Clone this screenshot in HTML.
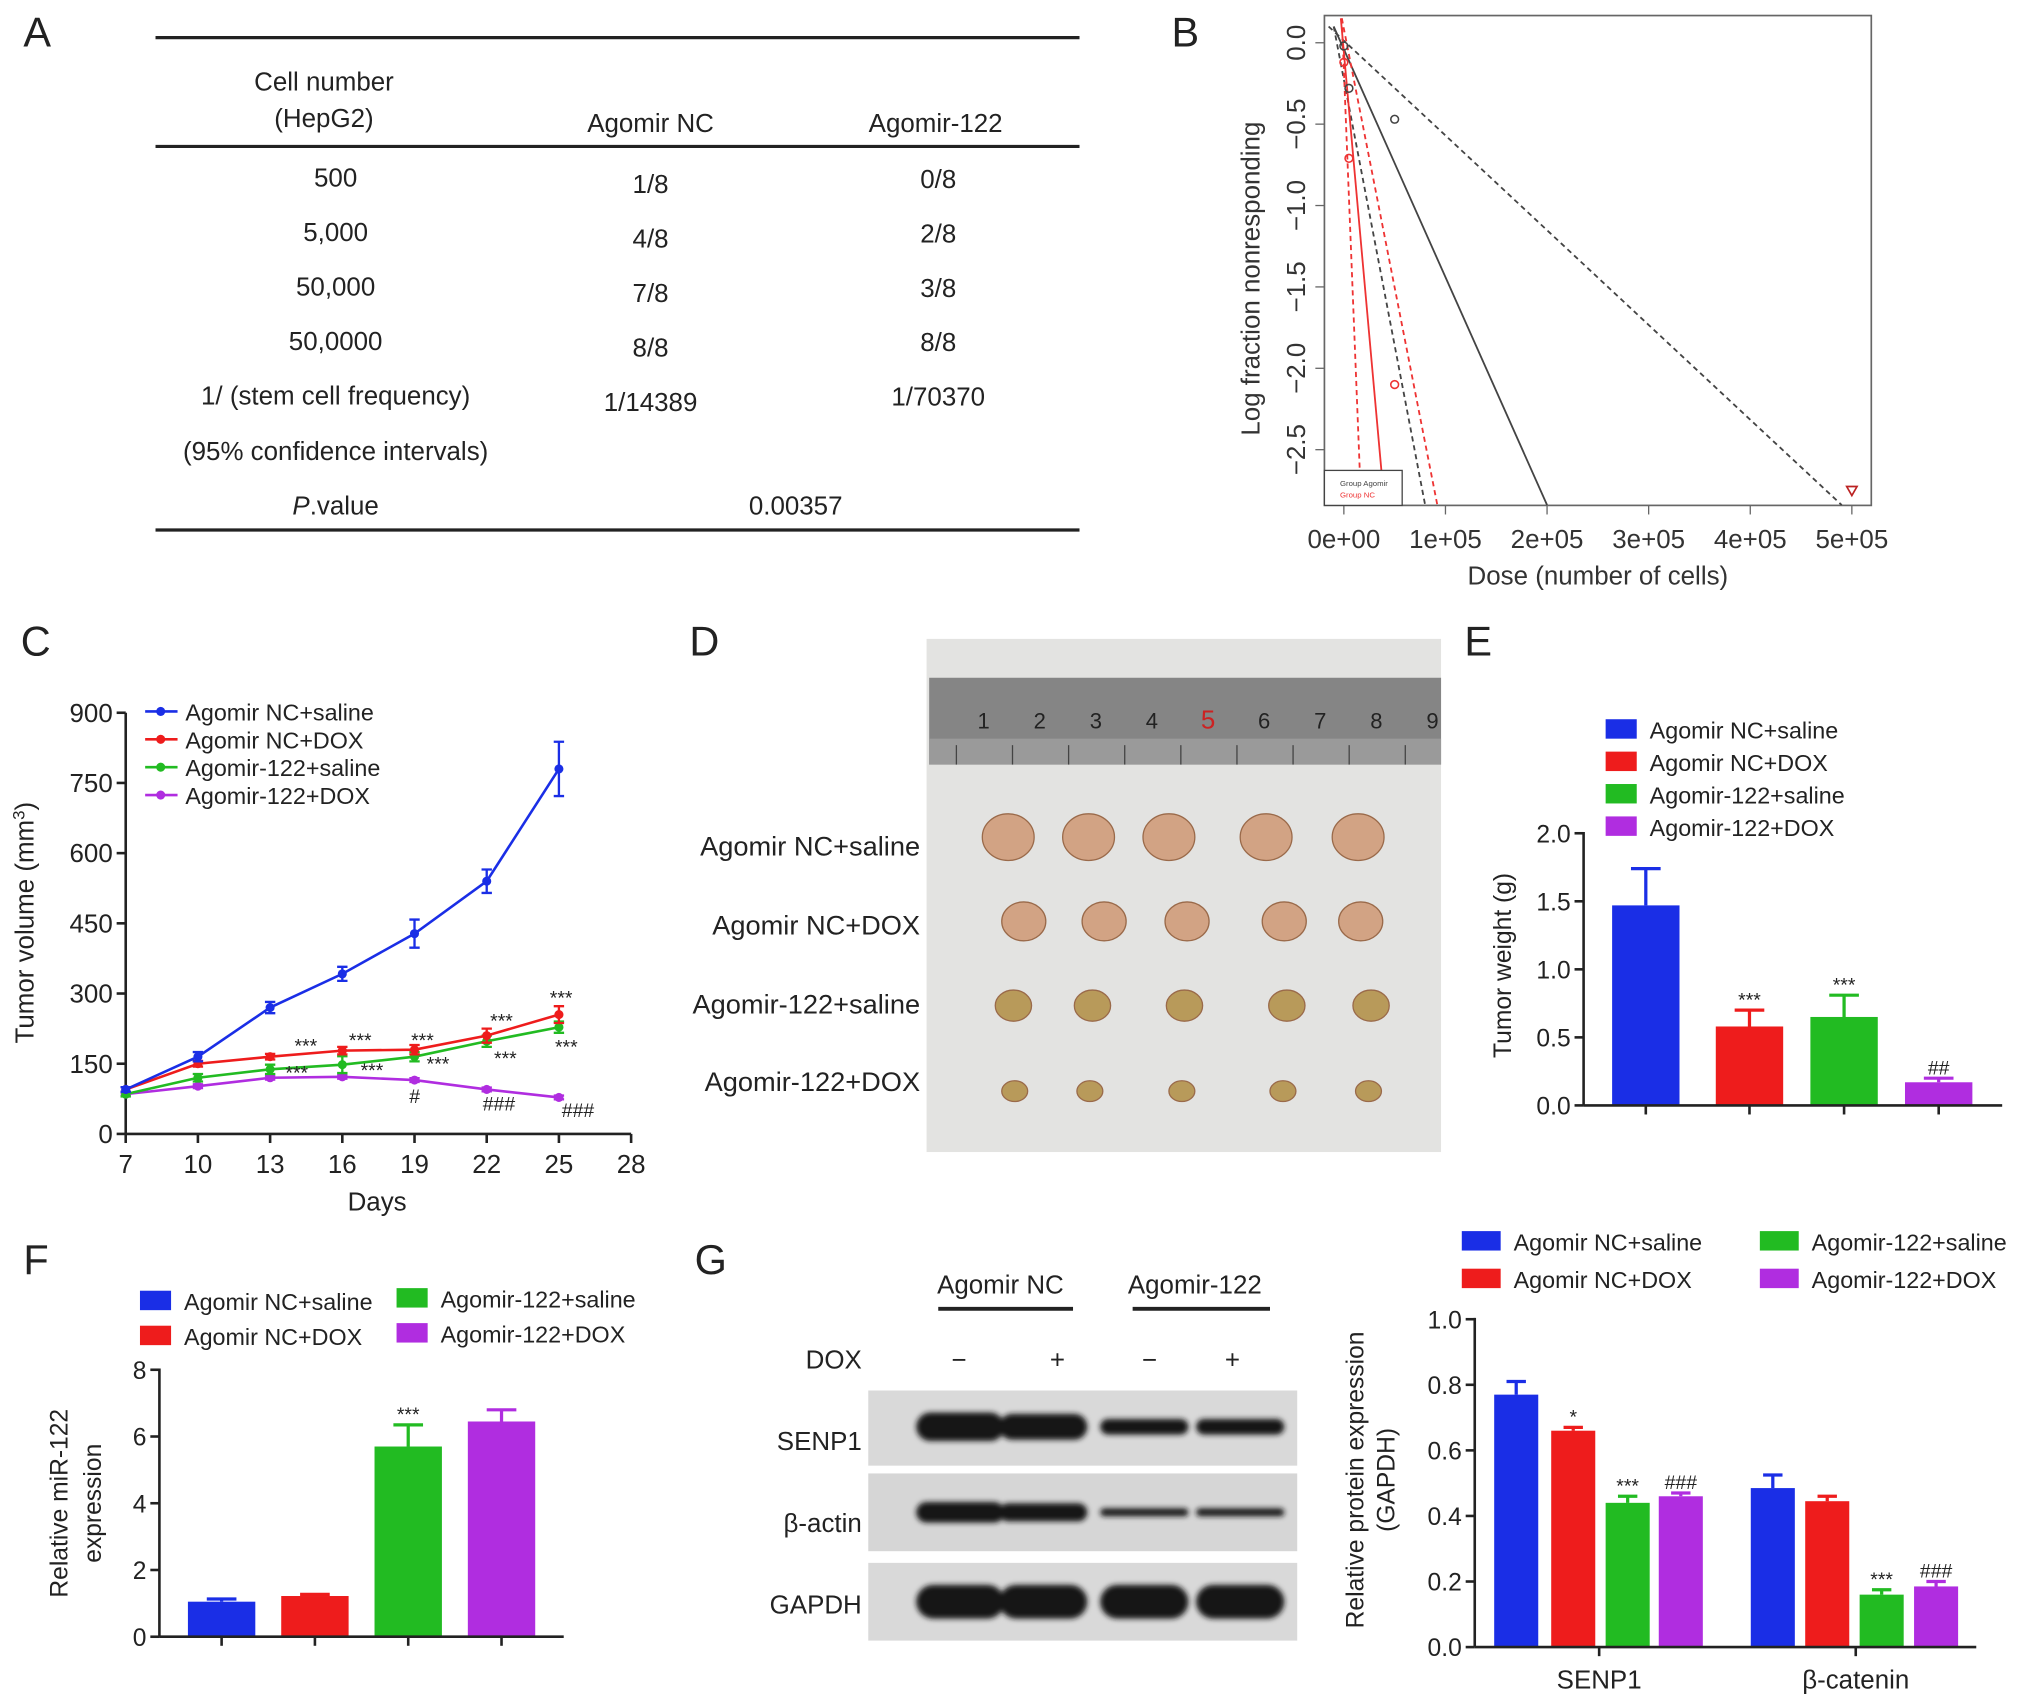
<!DOCTYPE html>
<html><head><meta charset="utf-8"><style>
html,body{margin:0;padding:0;background:#fff}
svg{display:block;font-family:"Liberation Sans",Arial,sans-serif}
</style></head><body>
<svg id="fig" width="2032" height="1708" viewBox="0 0 1568 1318" xmlns="http://www.w3.org/2000/svg">
<defs><filter id="blur" x="-20%" y="-50%" width="140%" height="200%"><feGaussianBlur stdDeviation="2"/></filter></defs>
<g font-size="20" fill="#222">
<text x="18" y="36" font-size="32">A</text>
<text x="904" y="36" font-size="32">B</text>
<text x="16" y="506" font-size="32">C</text>
<text x="532" y="506" font-size="32">D</text>
<text x="1130" y="506" font-size="32">E</text>
<text x="18" y="983" font-size="32">F</text>
<text x="536" y="983" font-size="32">G</text>
</g>

<g id="tableA" font-size="20" fill="#222" text-anchor="middle">
<line x1="120" y1="29" x2="833" y2="29" stroke="#222" stroke-width="2.5"/>
<line x1="120" y1="113" x2="833" y2="113" stroke="#222" stroke-width="2.5"/>
<line x1="120" y1="409" x2="833" y2="409" stroke="#222" stroke-width="2.5"/>
<text x="250" y="70">Cell number</text><text x="250" y="98">(HepG2)</text>
<text x="502" y="102">Agomir NC</text><text x="722" y="102">Agomir-122</text>
<text x="259" y="144">500</text><text x="502" y="149">1/8</text><text x="724" y="145">0/8</text>
<text x="259" y="186">5,000</text><text x="502" y="191">4/8</text><text x="724" y="187">2/8</text>
<text x="259" y="228">50,000</text><text x="502" y="233">7/8</text><text x="724" y="229">3/8</text>
<text x="259" y="270">50,0000</text><text x="502" y="275">8/8</text><text x="724" y="271">8/8</text>
<text x="259" y="312">1/ (stem cell frequency)</text><text x="502" y="317">1/14389</text><text x="724" y="313">1/70370</text>
<text x="259" y="355">(95% confidence intervals)</text>
<text x="259" y="397"><tspan font-style="italic">P</tspan>.value</text><text x="614" y="397">0.00357</text>
</g>

<g id="panelB">
<rect x="1022" y="12" width="422" height="378" fill="none" stroke="#666" stroke-width="1.3"/>
<g id="bLines"></g>
<g font-size="20" fill="#333" id="bTicks"></g>
<text transform="translate(972,215) rotate(-90)" text-anchor="middle" font-size="20" fill="#333">Log fraction nonresponding</text>
<text x="1233" y="451" text-anchor="middle" font-size="20" fill="#333">Dose (number of cells)</text>
<rect x="1022" y="363" width="60" height="27" fill="#fff" stroke="#444" stroke-width="1"/>
<text x="1034" y="375" font-size="6" fill="#444">Group Agomir</text>
<text x="1034" y="384" font-size="6" fill="#e33">Group NC</text>
</g>

<g id="panelC"></g>

<g id="panelD">
<rect x="715" y="493" width="397" height="396" fill="#e3e3e1"/>
<rect x="717" y="523" width="395" height="67" fill="#858585"/>
<rect x="717" y="570" width="395" height="20" fill="#9a9a9a"/>
<g id="ruler" font-size="17" fill="#222" text-anchor="middle"></g>
<g id="tumors"></g>
<g font-size="21" fill="#222" text-anchor="end">
<text x="710" y="660">Agomir NC+saline</text>
<text x="710" y="721">Agomir NC+DOX</text>
<text x="710" y="782">Agomir-122+saline</text>
<text x="710" y="842">Agomir-122+DOX</text>
</g>
</g>

<g id="panelE"></g>
<g id="panelF"></g>

<g id="blot" font-size="20" fill="#222">
<text x="772" y="998" text-anchor="middle">Agomir NC</text>
<text x="922" y="998" text-anchor="middle">Agomir-122</text>
<line x1="724" y1="1010" x2="828" y2="1010" stroke="#222" stroke-width="3"/>
<line x1="874" y1="1010" x2="980" y2="1010" stroke="#222" stroke-width="3"/>
<text x="665" y="1056" text-anchor="end">DOX</text>
<text x="740" y="1056" text-anchor="middle">−</text><text x="816" y="1056" text-anchor="middle">+</text>
<text x="887" y="1056" text-anchor="middle">−</text><text x="951" y="1056" text-anchor="middle">+</text>
<text x="665" y="1119" text-anchor="end">SENP1</text>
<text x="665" y="1182" text-anchor="end">β-actin</text>
<text x="665" y="1245" text-anchor="end">GAPDH</text>
<rect x="670" y="1073" width="331" height="58" fill="#d9d9d9"/>
<rect x="670" y="1137" width="331" height="60" fill="#d6d6d6"/>
<rect x="670" y="1206" width="331" height="60" fill="#d9d9d9"/>
<g id="bands" fill="#111" filter="url(#blur)"></g>
</g>
<g id="panelG"></g>
</svg>

<script>
const NS="http://www.w3.org/2000/svg";
function mk(tag,attrs,parent,text){const e=document.createElementNS(NS,tag);for(const k in attrs)e.setAttribute(k,attrs[k]);if(text!==undefined)e.textContent=text;parent.appendChild(e);return e;}

/* ---------- Panel B data ---------- */
const bXTicks=[0,100000,200000,300000,400000,500000];
const bXLabels=["0e+00","1e+05","2e+05","3e+05","4e+05","5e+05"];
const bYTicks=[0,-0.5,-1,-1.5,-2,-2.5];
const bYLabels=["0.0","−0.5","−1.0","−1.5","−2.0","−2.5"];
const bLineX0=[-10000,-15000,-10000,-3000,-2000,-2000];
const bLineY0=[0.1,0.1,0.1,0.15,0.15,0.15];
const bLineX1=[200000,490000,80000,40000,17000,92000];
const bLineY1=[-2.84,-2.84,-2.84,-2.84,-2.84,-2.84];
const bLineColor=["#444","#444","#444","#e33","#e33","#e33"];
const bLineDash=["","4,3","4,3","","4,3","4,3"];
const bPtX=[0,5000,50000,0,5000,50000];
const bPtY=[-0.02,-0.28,-0.47,-0.12,-0.71,-2.1];
const bPtColor=["#444","#444","#444","#e33","#e33","#e33"];
{
const X=v=>1037+v*(1429-1037)/500000, Y=v=>33+(-v)*(347-33)/2.5;
const g=document.getElementById('bLines');
for(let i=0;i<bLineX0.length;i++){
 const l=mk('line',{x1:X(bLineX0[i]),y1:Math.max(12,Y(bLineY0[i])),x2:X(bLineX1[i]),y2:Y(bLineY1[i]),stroke:bLineColor[i],'stroke-width':1.4,'stroke-dasharray':bLineDash[i]},g);
 
 
}
for(let i=0;i<bPtX.length;i++){
 const c=mk('circle',{cx:X(bPtX[i]),cy:Y(bPtY[i]),r:3,fill:'none',stroke:bPtColor[i],'stroke-width':1.2},g);
 
 
}
const tri=mk('path',{d:`M${X(500000)-4},${Y(-2.75)-3} h8 l-4,7 z`,fill:'none',stroke:'#b22','stroke-width':1.3},g);


const t=document.getElementById('bTicks');
bXTicks.forEach((v,i)=>{mk('line',{x1:X(v),y1:390,x2:X(v),y2:397,stroke:'#666'},t);
 const tx=mk('text',{x:X(v),y:423,'text-anchor':'middle'},t,bXLabels[i]);
 
 });
bYTicks.forEach((v,i)=>{mk('line',{x1:1015,y1:Y(v),x2:1022,y2:Y(v),stroke:'#666'},t);
 const tx=mk('text',{x:1007,y:Y(v),'text-anchor':'middle',transform:`rotate(-90 1007 ${Y(v)})`},t,bYLabels[i]);
 
 });
}

/* ---------- Panel C data ---------- */
const cDays=[7,10,13,16,19,22,25];
const cSeries=["Agomir NC+saline","Agomir NC+DOX","Agomir-122+saline","Agomir-122+DOX"];
const cColors=["#1a2ee6","#ee1c1c","#22bb22","#b02de0"];
const cBlue=[95,165,270,342,428,540,780];
const cBlueErr=[5,10,12,15,30,25,58];
const cRed=[95,150,165,178,180,210,255];
const cRedErr=[5,6,6,8,10,15,18];
const cGreen=[85,120,138,148,165,198,228];
const cGreenErr=[5,8,10,18,10,12,12];
const cPurple=[85,102,120,122,115,95,78];
const cPurpleErr=[3,4,4,4,4,4,4];
const cYTicks=[0,150,300,450,600,750,900];
const cXTicks=[7,10,13,16,19,22,25,28];
{
const g=document.getElementById('panelC');
const X=d=>97+(d-7)*(487-97)/21, Y=v=>875-v*(875-550)/900;
mk('line',{x1:97,y1:550,x2:97,y2:875,stroke:'#222','stroke-width':2},g);
mk('line',{x1:97,y1:875,x2:487,y2:875,stroke:'#222','stroke-width':2},g);
cYTicks.forEach(v=>{mk('line',{x1:90,y1:Y(v),x2:97,y2:Y(v),stroke:'#222','stroke-width':2},g);
 const t=mk('text',{x:87,y:Y(v)+7,'text-anchor':'end','font-size':20,fill:'#222'},g,String(v));
 
 });
cXTicks.forEach(v=>{mk('line',{x1:X(v),y1:875,x2:X(v),y2:882,stroke:'#222','stroke-width':2},g);
 const t=mk('text',{x:X(v),y:905,'text-anchor':'middle','font-size':20,fill:'#222'},g,String(v));
 
 });
const yt=mk('text',{transform:'translate(26,712) rotate(-90)','text-anchor':'middle','font-size':20,fill:'#222'},g);
yt.innerHTML='Tumor volume (mm<tspan dy="-7" font-size="13">3</tspan><tspan dy="7">)</tspan>';


const xt=mk('text',{x:291,y:934,'text-anchor':'middle','font-size':20,fill:'#222'},g,'Days');


const vals=[cBlue,cRed,cGreen,cPurple], errs=[cBlueErr,cRedErr,cGreenErr,cPurpleErr];
for(let s=3;s>=0;s--){
 const pts=cDays.map((d,i)=>X(d)+','+Y(vals[s][i])).join(' ');
 const pl=mk('polyline',{points:pts,fill:'none',stroke:cColors[s],'stroke-width':2},g);
 
 
 cDays.forEach((d,i)=>{const x=X(d),y=Y(vals[s][i]),e=errs[s][i]*(325/900);
  mk('path',{d:`M${x},${y-e}V${y+e}M${x-4},${y-e}h8M${x-4},${y+e}h8`,stroke:cColors[s],'stroke-width':1.8,fill:'none'},g);
  const c=mk('circle',{cx:x,cy:y,r:3.5,fill:cColors[s]},g);
  
  });
}
const ann=[[236,812,'***'],[278,808,'***'],[326,808,'***'],[387,793,'***'],[433,775,'***'],[229,833,'***'],[287,831,'***'],[338,826,'***'],[390,822,'***'],[437,813,'***'],[320,851,'#'],[385,857,'###'],[446,862,'###']];
ann.forEach(a=>mk('text',{x:a[0],y:a[1],'text-anchor':'middle','font-size':15,fill:'#222'},g,a[2]));
cSeries.forEach((n,i)=>{const y=549+i*21.5;
 mk('line',{x1:112,y1:y,x2:137,y2:y,stroke:cColors[i],'stroke-width':2},g);
 mk('circle',{cx:124,cy:y,r:3.5,fill:cColors[i]},g);
 const t=mk('text',{x:143,y:y+7,'font-size':18,fill:'#222'},g,n);
 
 });
}

/* ---------- Panel D ---------- */
{
const r=document.getElementById('ruler');
["1","2","3","4","5","6","7","8","9"].forEach((n,i)=>{const x=759+i*43.3;
 mk('text',{x:x,y:562,fill:i==4?'#c22':'#222','font-size':i==4?20:17},r,n);
 mk('line',{x1:x-21,y1:575,x2:x-21,y2:590,stroke:'#444'},r);});
const tg=document.getElementById('tumors');
const rowsY=[646,711,776,842], rowsR=[18,15,12,8];
const cols=[[778,840,902,977,1048],[790,852,916,991,1050],[782,843,914,993,1058],[783,841,912,990,1056]];
rowsY.forEach((y,ri)=>cols[ri].forEach(x=>{
 const e=mk('ellipse',{cx:x,cy:y,rx:rowsR[ri]+2,ry:rowsR[ri],fill:ri<2?'#d2a384':'#b89a5a',stroke:'#9a6a4a','stroke-width':1},tg);
 
 }));
}

/* ---------- bar chart helper ---------- */
function barChart(gid,o){
 const g=document.getElementById(gid);
 const Y=v=>o.y0-(v-0)*(o.y0-o.y1)/o.ymax;
 o.vals.forEach((v,i)=>{const x=o.cx[i],e=o.errs[i];
  mk('path',{d:`M${x},${Y(v)}V${Y(v+e)}M${x-o.w*0.22},${Y(v+e)}h${o.w*0.44}`,stroke:o.colors[i%4],'stroke-width':2.5,fill:'none'},g);
  const b=mk('rect',{x:x-o.w/2,y:Y(v),width:o.w,height:o.y0-Y(v),fill:o.colors[i%4]},g);
  
  
  if(o.ann[i])mk('text',{x:x,y:Y(v+e)-3,'text-anchor':'middle','font-size':15,fill:'#222'},g,o.ann[i]);});
 mk('line',{x1:o.ax,y1:o.y1-1,x2:o.ax,y2:o.y0,stroke:'#222','stroke-width':2},g);
 mk('line',{x1:o.ax,y1:o.y0,x2:o.axEnd,y2:o.y0,stroke:'#222','stroke-width':2},g);
 o.ticks.forEach((v,i)=>{mk('line',{x1:o.ax-7,y1:Y(v),x2:o.ax,y2:Y(v),stroke:'#222','stroke-width':2},g);
  const t=mk('text',{x:o.ax-10,y:Y(v)+7,'text-anchor':'end','font-size':19,fill:'#222'},g,o.tickLabels[i]);
  
  });
 (o.xticks||[]).forEach(x=>mk('line',{x1:x,y1:o.y0,x2:x,y2:o.y0+7,stroke:'#222','stroke-width':2},g));
 o.legend.forEach(L=>{mk('rect',{x:L[0],y:L[1]-8,width:o.lw,height:15,fill:L[2]},g);
  const t=mk('text',{x:L[0]+o.lw+10,y:L[1]+7,'font-size':18,fill:'#222'},g,L[3]);
  
  });
 o.titles.forEach(T=>{const t=mk('text',{transform:`translate(${T[0]},${T[1]}) rotate(-90)`,'text-anchor':'middle','font-size':19,fill:'#222'},g,T[2]);
  
  });
 return g;
}
const COL=["#1a2ee6","#ee1c1c","#22bb22","#b02de0"];

/* ---------- Panel E data ---------- */
const eGroups=["Agomir NC+saline","Agomir NC+DOX","Agomir-122+saline","Agomir-122+DOX"];
const eVals=[1.47,0.58,0.65,0.17];
const eErrs=[0.27,0.12,0.16,0.03];
const eTicks=[0,0.5,1.0,1.5,2.0];
const eTickLabels=["0.0","0.5","1.0","1.5","2.0"];
barChart('panelE',{vals:eVals,errs:eErrs,cx:[1270,1350,1423,1496],w:52,colors:COL,y0:853,y1:643,ymax:2.0,ax:1222,axEnd:1545,
 ticks:eTicks,tickLabels:eTickLabels,xticks:[1270,1350,1423,1496],ann:["","***","***","##"],lw:24,
 legend:eGroups.map((n,i)=>[1239,563+i*25,COL[i],n]),titles:[[1166,745,'Tumor weight (g)']]});

/* ---------- Panel F data ---------- */
const fGroups=["Agomir NC+saline","Agomir NC+DOX","Agomir-122+saline","Agomir-122+DOX"];
const fVals=[1.05,1.22,5.7,6.45];
const fErrs=[0.08,0.05,0.65,0.35];
const fTicks=[0,2,4,6,8];
const fTickLabels=["0","2","4","6","8"];
barChart('panelF',{vals:fVals,errs:fErrs,cx:[171,243,315,387],w:52,colors:COL,y0:1263,y1:1057,ymax:8,ax:123,axEnd:435,
 ticks:fTicks,tickLabels:fTickLabels,xticks:[171,243,315,387],ann:["","","***",""],lw:24,
 legend:[[108,1004,COL[0],fGroups[0]],[108,1031,COL[1],fGroups[1]],[306,1002,COL[2],fGroups[2]],[306,1029,COL[3],fGroups[3]]],
 titles:[[52,1160,'Relative miR-122'],[78,1160,'expression']]});

/* ---------- Panel G data ---------- */
const gProteins=["SENP1","β-catenin"];
const gVals=[0.77,0.66,0.44,0.46,0.485,0.445,0.16,0.185];
const gErrs=[0.04,0.01,0.02,0.01,0.04,0.015,0.015,0.015];
const gTicks=[0,0.2,0.4,0.6,0.8,1.0];
const gTickLabels=["0.0","0.2","0.4","0.6","0.8","1.0"];
{
const g=barChart('panelG',{vals:gVals,errs:gErrs,cx:[1170,1214,1256,1297,1368,1410,1452,1494],w:34,colors:COL,y0:1271,y1:1018,ymax:1.0,ax:1138,axEnd:1525,
 ticks:gTicks,tickLabels:gTickLabels,xticks:[1234,1432],ann:["","*","***","###","","","***","###"],lw:30,
 legend:[[1128,958,COL[0],"Agomir NC+saline"],[1128,987,COL[1],"Agomir NC+DOX"],[1358,958,COL[2],"Agomir-122+saline"],[1358,987,COL[3],"Agomir-122+DOX"]],
 titles:[[1052,1142,'Relative protein expression'],[1076,1142,'(GAPDH)']]});
gProteins.forEach((p,i)=>{const t=mk('text',{x:[1234,1432][i],y:1303,'text-anchor':'middle','font-size':20,fill:'#222'},g,p);
 
 });
}

/* ---------- blot bands ---------- */
{
const b=document.getElementById('bands');
const lanes=[741,805,883,957];
const rows=[[1101,[11,10,6,6]],[1167,[8,7,3,3]],[1236,[13,13,13,13]]];
rows.forEach(r=>lanes.forEach((x,i)=>{const h=r[1][i]*2;
 const e=mk('rect',{x:x-34,y:r[0]-h/2,width:68,height:h,rx:h/2,ry:h/2,fill:'#151515'},b);
 
 }));
}
</script>
</body></html>
